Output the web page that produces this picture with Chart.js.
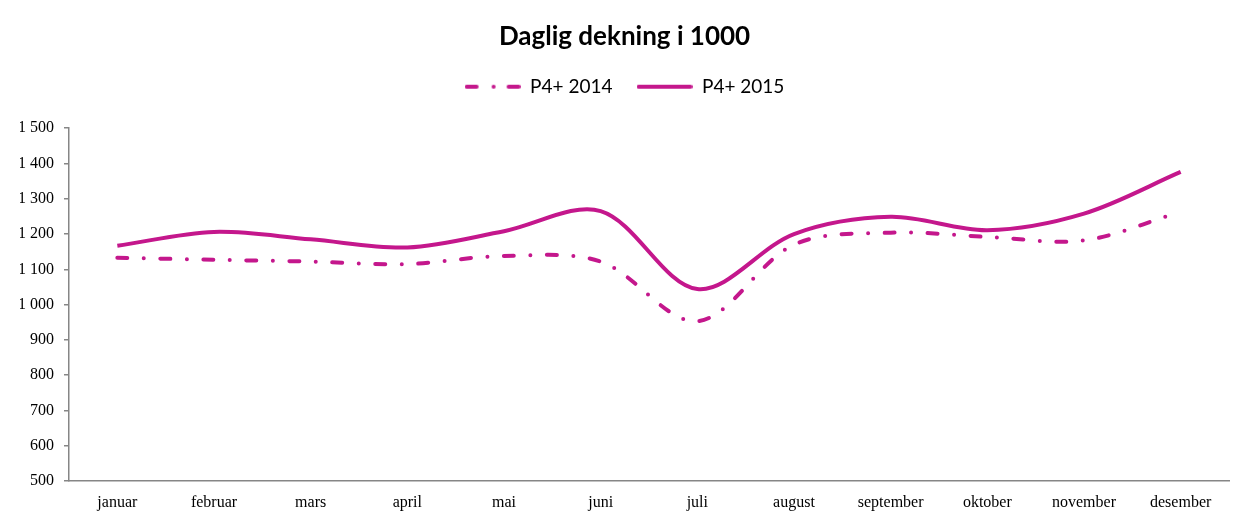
<!DOCTYPE html>
<html>
<head>
<meta charset="utf-8">
<script src="https://cdn.jsdelivr.net/npm/chart.js@4/dist/chart.umd.min.js"></script>
<style>
  html,body{margin:0;padding:0;background:#fff;}
  #wrap{width:1253px;height:525px;position:relative;}
</style>
</head>
<body>
<div id="wrap"><canvas id="chart"></canvas></div>
<script>
const months = ['januar','februar','mars','april','mai','juni','juli','august','september','oktober','november','desember'];
const p4_2014 = [1133, 1127, 1122, 1115, 1138, 1122, 953, 1170, 1204, 1192, 1182, 1263];
const p4_2015 = [1167, 1206, 1185, 1162, 1208, 1265, 1044, 1200, 1249, 1211, 1258, 1376];
const yTicks = [500, 600, 700, 800, 900, 1000, 1100, 1200, 1300, 1400, 1500];

const pink = '#C4178C';
const axisGrey = '#868686';

function fmt(n){
  if(n < 1000) return String(n);
  return Math.floor(n/1000) + ' ' + String(n % 1000).padStart(3,'0');
}

// small line sample used as legend symbol
function sample(segs){
  const c = document.createElement('canvas');
  c.width = 56; c.height = 8;
  const g = c.getContext('2d');
  g.strokeStyle = pink; g.lineWidth = 4; g.lineCap = 'round';
  segs.forEach(([a,b]) => { g.beginPath(); g.moveTo(a,4); g.lineTo(b === a ? b + 0.01 : b,4); g.stroke(); });
  return c;
}
const sample2014 = sample([[2,12],[29,29],[44,54]]);
const sample2015 = sample([[2,54]]);

const legendGap = {
  id:'legendGap',
  beforeInit(chart){
    const fit = chart.legend.fit;
    chart.legend.fit = function(){ fit.bind(chart.legend)(); this.height += 22; };
  }
};

(function(){
  const ctx = document.getElementById('chart');
  new Chart(ctx, {
    type: 'line',
    data: {
      labels: months,
      datasets: [
        { label:'P4+ 2014', data:p4_2014, borderColor:pink, backgroundColor:pink, borderWidth:4,
          borderDash:[10,16.5,0,16.5], borderCapStyle:'round', pointRadius:0, pointStyle:sample2014,
          tension:0.33, fill:false },
        { label:'P4+ 2015', data:p4_2015, borderColor:pink, backgroundColor:pink, borderWidth:4,
          pointRadius:0, pointStyle:sample2015, tension:0.33, fill:false }
      ]
    },
    options: {
      responsive:true, maintainAspectRatio:false, animation:false,
      layout:{ padding:{ left:20, right:24, top:0, bottom:0 } },
      plugins:{
        title:{ display:true, text:'Daglig dekning i 1000', color:'#000',
          font:{ family:'Lato', size:26, weight:'bold' }, padding:{ top:21, bottom:1 } },
        legend:{ display:true, position:'top',
          labels:{ usePointStyle:true, pointStyleWidth:56, boxHeight:8,
            color:'#000', font:{ family:'Lato', size:19 }, padding:24 } },
        tooltip:{ enabled:false }
      },
      scales:{
        x:{
          offset:true,
          afterFit: s => { s.height = 44; },
          grid:{ display:false },
          border:{ display:true, color:axisGrey, width:1.5 },
          ticks:{ color:'#000', font:{ family:'Liberation Serif', size:16 }, maxRotation:0, padding:4 }
        },
        y:{
          min:500, max:1500,
          afterBuildTicks: s => { s.ticks = yTicks.map(v => ({ value:v })); },
          afterFit: s => { s.width = 49; },
          grid:{ drawOnChartArea:false, drawTicks:true, tickLength:5, color:axisGrey, lineWidth:1.5 },
          border:{ display:true, color:axisGrey, width:1.5 },
          ticks:{ color:'#000', font:{ family:'Liberation Serif', size:16 }, padding:10, callback: v => fmt(v) }
        }
      }
    },
    plugins:[legendGap]
  });
})();
</script>
</body>
</html>
